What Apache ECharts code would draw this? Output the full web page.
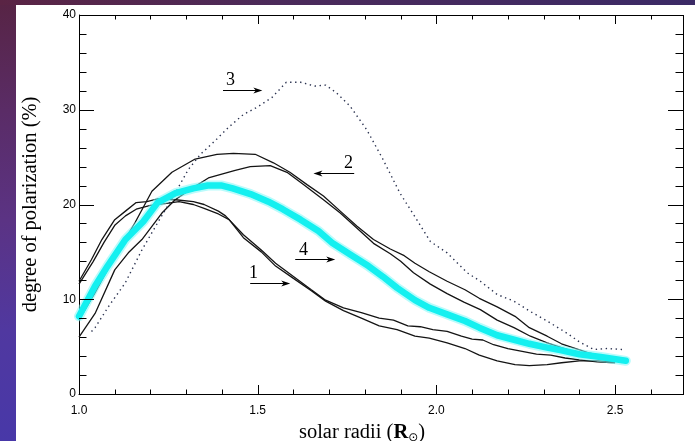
<!DOCTYPE html>
<html><head><meta charset="utf-8">
<script src="https://cdn.jsdelivr.net/npm/echarts@6/dist/echarts.min.js"></script>
<style>
html,body{margin:0;padding:0;width:695px;height:441px;overflow:hidden;}
body{background:linear-gradient(180deg,#572444 0%,#5a2c66 25%,#5b3384 50%,#5038a0 75%,#4838a8 100%);}
#topstrip{position:absolute;left:0;top:0;width:695px;height:5px;background:linear-gradient(90deg,#5a2444 0%,#4b2a5a 40%,#3b2a66 100%);}
#paper{position:absolute;left:16px;top:5px;right:0;bottom:0;background:#fff;}
#frame{position:absolute;left:79px;top:15px;width:603px;height:378px;border:1px solid #000;}
#chart{position:absolute;left:0;top:0;width:695px;height:441px;}
</style></head><body><div id="topstrip"></div><div id="paper"></div><div id="frame"></div><div id="chart"></div>
<script>
// ---- data ----
const xTickLabels = ['1.0', '1.5', '2.0', '2.5'];
const yTickLabels = ['0', '10', '20', '30', '40'];
const xMajorTicks = [1.0, 1.5, 2.0, 2.5];
const xMinorTicks = [1.1, 1.2, 1.3, 1.4, 1.6, 1.7, 1.8, 1.9, 2.1, 2.2, 2.3, 2.4, 2.6];
const yMajorTicks = [0, 10, 20, 30, 40];
const yMinorTicks = [2, 4, 6, 8, 12, 14, 16, 18, 22, 24, 26, 28, 32, 34, 36, 38];

const curve1aX = [1.00, 1.035, 1.064, 1.10, 1.13, 1.16, 1.19, 1.22, 1.27, 1.32, 1.35, 1.39, 1.41, 1.46, 1.51, 1.55, 1.60, 1.65, 1.69, 1.74, 1.79, 1.84, 1.88, 1.92, 1.955, 1.99, 2.03, 2.07, 2.10, 2.13, 2.16, 2.20, 2.24, 2.28, 2.32, 2.36, 2.40, 2.45, 2.50];
const curve1aY = [11.9, 14.2, 16.3, 18.4, 19.3, 20.2, 20.3, 20.6, 20.5, 20.3, 20.0, 19.3, 18.8, 16.8, 15.2, 13.8, 12.4, 11.0, 9.9, 9.1, 8.6, 8.0, 7.8, 7.2, 7.1, 6.8, 6.6, 6.1, 5.8, 5.7, 5.2, 4.8, 4.5, 4.2, 4.1, 3.8, 3.6, 3.4, 3.3];

const curve1bX = [1.00, 1.04, 1.07, 1.10, 1.13, 1.16, 1.20, 1.24, 1.28, 1.32, 1.35, 1.39, 1.42, 1.46, 1.51, 1.55, 1.60, 1.65, 1.69, 1.74, 1.79, 1.84, 1.89, 1.94, 1.98, 2.03, 2.08, 2.12, 2.17, 2.22, 2.26, 2.31, 2.35, 2.40, 2.45, 2.50];
const curve1bY = [11.6, 14.0, 16.0, 17.8, 18.8, 19.5, 19.9, 20.1, 20.3, 20.0, 19.6, 19.0, 18.4, 16.5, 15.0, 13.5, 12.2, 10.9, 9.8, 8.8, 8.0, 7.2, 6.8, 6.1, 5.9, 5.4, 4.8, 4.1, 3.5, 3.1, 3.0, 3.1, 3.3, 3.5, 3.5, 3.4];

const curve2aX = [1.00, 1.045, 1.10, 1.157, 1.204, 1.26, 1.325, 1.386, 1.432, 1.493, 1.544, 1.59, 1.638, 1.684, 1.731, 1.778, 1.824, 1.871, 1.91, 1.94, 1.98, 2.03, 2.08, 2.12, 2.17, 2.22, 2.26, 2.31, 2.35, 2.39, 2.43, 2.48, 2.52];
const curve2aY = [7.8, 10.7, 14.5, 18.1, 21.4, 23.4, 24.8, 25.3, 25.4, 25.3, 24.4, 23.4, 22.1, 20.9, 19.3, 17.7, 16.3, 15.3, 14.6, 13.8, 12.9, 11.9, 11.0, 10.1, 9.2, 8.2, 7.0, 6.1, 5.3, 4.8, 4.3, 3.9, 3.7];

const curve2bX = [1.00, 1.045, 1.10, 1.138, 1.176, 1.232, 1.269, 1.316, 1.362, 1.437, 1.479, 1.535, 1.582, 1.628, 1.684, 1.731, 1.778, 1.824, 1.871, 1.90, 1.936, 1.983, 2.03, 2.077, 2.123, 2.17, 2.217, 2.263, 2.31, 2.35, 2.40, 2.45, 2.50];
const curve2bY = [6.0, 8.5, 13.1, 14.9, 16.3, 19.1, 20.5, 21.7, 22.8, 23.6, 24.0, 24.1, 23.4, 22.1, 20.5, 19.1, 17.5, 15.9, 14.8, 14.0, 12.8, 11.6, 10.6, 9.7, 8.9, 7.8, 7.0, 6.1, 5.4, 4.9, 4.3, 3.9, 3.6];

const curve3X = [1.035, 1.045, 1.082, 1.129, 1.176, 1.222, 1.269, 1.306, 1.34, 1.38, 1.42, 1.46, 1.50, 1.54, 1.58, 1.62, 1.66, 1.69, 1.72, 1.758, 1.805, 1.85, 1.898, 1.945, 1.983, 2.03, 2.086, 2.123, 2.17, 2.217, 2.263, 2.31, 2.366, 2.40, 2.44, 2.478, 2.52];
const curve3Y = [6.6, 7.0, 9.2, 11.7, 15.2, 18.2, 21.2, 23.7, 25.3, 26.7, 28.2, 29.5, 30.3, 31.3, 32.9, 32.9, 32.5, 32.6, 31.8, 30.4, 27.9, 24.8, 21.2, 18.4, 16.1, 14.9, 12.8, 11.9, 10.5, 9.8, 8.7, 7.7, 6.4, 5.5, 4.7, 4.8, 4.7];

const curve4X = [1.00, 1.045, 1.08, 1.13, 1.18, 1.22, 1.27, 1.32, 1.36, 1.40, 1.43, 1.48, 1.53, 1.57, 1.62, 1.67, 1.71, 1.76, 1.81, 1.85, 1.89, 1.94, 1.98, 2.03, 2.08, 2.12, 2.17, 2.22, 2.26, 2.31, 2.35, 2.40, 2.46, 2.53];
const curve4Y = [8.2, 11.4, 13.5, 16.3, 18.2, 20.2, 21.2, 21.7, 22.0, 22.0, 21.7, 21.1, 20.3, 19.5, 18.4, 17.2, 15.9, 14.7, 13.5, 12.4, 11.2, 9.9, 9.1, 8.4, 7.7, 7.0, 6.2, 5.7, 5.3, 4.9, 4.6, 4.2, 3.9, 3.5];

// annotations (label, text position, arrow start, arrow end) in data units
const annotLabels = ['1', '2', '3', '4'];
const annotTextX  = [1.488, 1.754, 1.424, 1.628];
const annotTextY  = [12.7, 24.3, 33.1, 15.2];
const arrowFromX  = [1.479, 1.770, 1.403, 1.605];
const arrowToX    = [1.591, 1.656, 1.513, 1.717];
const arrowY      = [11.7, 23.3, 32.1, 14.2];

// ---- chart ----
const zip = (xs, ys) => xs.map((x, i) => [x, ys[i]]);
const xMin = 1.0, xMax = 2.69, yMin = 0, yMax = 40;
const sans = 'Liberation Sans, Arial, sans-serif';
const serif = 'Liberation Serif, Times New Roman, serif';
const blk = '#000';

const chart = echarts.init(document.getElementById('chart'));
const lineBlack = (xs, ys) => ({
  type: 'line', data: zip(xs, ys), showSymbol: false, silent: true,
  lineStyle: { color: '#141414', width: 1.3 }, z: 2
});

// inward tick marks on both opposite sides of the frame, placed by the axis scales
function tickSeries(values, dir, len) {
  return {
    type: 'custom', silent: true, z: 5, clip: false,
    data: values.map(v => dir === 'x' ? [v, yMin] : [xMin, v]),
    renderItem: (params, api) => {
      const cs = params.coordSys;
      const p = api.coord([api.value(0), api.value(1)]);
      const st = { stroke: blk, lineWidth: 1 };
      if (dir === 'x') {
        const x = Math.round(p[0]) + 0.5, b = cs.y + cs.height, t = cs.y;
        return { type: 'group', children: [
          { type: 'line', shape: { x1: x, y1: b, x2: x, y2: b - len }, style: st },
          { type: 'line', shape: { x1: x, y1: t, x2: x, y2: t + len }, style: st }
        ]};
      }
      const y = Math.round(p[1]) + 0.5, l = cs.x, r = cs.x + cs.width;
      return { type: 'group', children: [
        { type: 'line', shape: { x1: l, y1: y, x2: l + len, y2: y }, style: st },
        { type: 'line', shape: { x1: r, y1: y, x2: r - len, y2: y }, style: st }
      ]};
    }
  };
}

// annotation arrows + numbers, positioned through the axes' scales
const annotSeries = {
  type: 'custom', silent: true, z: 6, clip: false,
  data: annotLabels.map((l, i) => [arrowFromX[i], arrowToX[i], arrowY[i], annotTextX[i], annotTextY[i], i]),
  renderItem: (params, api) => {
    const a = api.coord([api.value(0), api.value(2)]);
    const b = api.coord([api.value(1), api.value(2)]);
    const t = api.coord([api.value(3), api.value(4)]);
    const dir = Math.sign(b[0] - a[0]);
    const y = Math.round(a[1]) + 0.5;
    return { type: 'group', children: [
      { type: 'line', shape: { x1: a[0], y1: y, x2: b[0] - dir * 3, y2: y }, style: { stroke: blk, lineWidth: 1 } },
      { type: 'polygon', shape: { points: [[b[0], y], [b[0] - dir * 9, y - 3], [b[0] - dir * 6.5, y], [b[0] - dir * 9, y + 3]] }, style: { fill: blk } },
      { type: 'text', x: t[0], y: t[1], style: { text: annotLabels[api.value(5)], fontFamily: serif, fontSize: 18, fill: blk, align: 'center', verticalAlign: 'middle' } }
    ]};
  }
};

chart.setOption({
  animation: false,
  grid: { left: 79, right: 12, top: 15, bottom: 47, outerBoundsMode: 'none' },
  xAxis: {
    type: 'value', min: xMin, max: xMax, interval: 0.5,
    axisLine: { show: true, onZero: false, lineStyle: { color: blk } },
    axisTick: { show: false }, splitLine: { show: false },
    axisLabel: {
      show: true, margin: 11, fontSize: 12, color: blk, fontFamily: sans,
      formatter: v => { const s = v.toFixed(1); return xTickLabels.indexOf(s) >= 0 ? s : ''; }
    },
    name: '{t|solar radii (}{r|R}{s|\u2299}{t|)}',
    nameLocation: 'middle', nameGap: 16,
    nameTextStyle: {
      padding: [0, 38, 0, 0],
      rich: {
        t: { fontFamily: serif, fontSize: 20.5, color: blk },
        r: { fontFamily: serif, fontSize: 20.5, fontWeight: 'bold', color: blk },
        s: { fontFamily: 'DejaVu Sans', fontSize: 12, color: blk, padding: [11, 0, 0, 0] }
      }
    }
  },
  yAxis: {
    type: 'value', min: yMin, max: yMax, interval: 10,
    axisLine: { show: true, onZero: false, lineStyle: { color: blk } },
    axisTick: { show: false }, splitLine: { show: false },
    axisLabel: {
      margin: 3, fontSize: 12, color: blk, fontFamily: sans,
      formatter: v => { const s = String(Math.round(v)); return yTickLabels.indexOf(s) >= 0 ? s : ''; }
    },
    name: 'degree of polarization (%)', nameLocation: 'middle', nameGap: 38,
    nameTextStyle: { fontFamily: serif, fontSize: 20.5, color: blk }
  },
  series: [
    tickSeries(xMajorTicks, 'x', 9),
    tickSeries(xMinorTicks, 'x', 4.5),
    tickSeries(yMajorTicks, 'y', 15),
    tickSeries(yMinorTicks, 'y', 7.5),
    lineBlack(curve1aX, curve1aY),
    lineBlack(curve1bX, curve1bY),
    lineBlack(curve2aX, curve2aY),
    lineBlack(curve2bX, curve2bY),
    {
      type: 'line', data: zip(curve3X, curve3Y), showSymbol: false, silent: true,
      lineStyle: { color: '#2a3250', width: 1.4, type: [1.4, 3.6] }, z: 2
    },
    {
      type: 'line', data: zip(curve4X, curve4Y), showSymbol: false, silent: true,
      lineStyle: { color: '#7ff8f8', width: 10, opacity: 0.55, cap: 'round', join: 'round' }, z: 3
    },
    {
      type: 'line', data: zip(curve4X, curve4Y), showSymbol: false, silent: true,
      lineStyle: { color: '#14f0f0', width: 6.5, cap: 'round', join: 'round' }, z: 3
    },
    annotSeries
  ]
});
</script></body></html>
